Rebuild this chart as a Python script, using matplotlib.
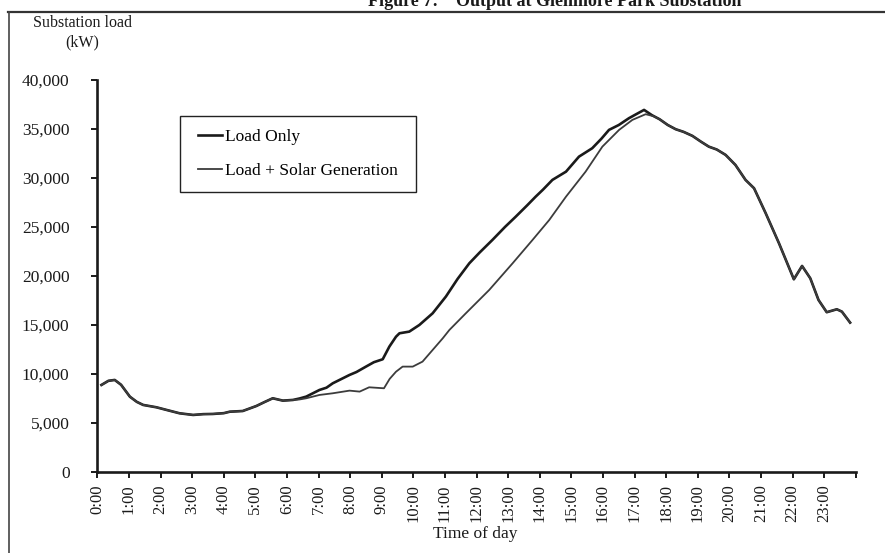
"""Glenmore Park substation load with and without rooftop solar, recreated from the report figure."""

import matplotlib

matplotlib.use("Agg")
import matplotlib.pyplot as plt  # noqa: E402
from matplotlib.lines import Line2D  # noqa: E402

# readings: hour of day -> substation load (kW)
# overnight part is identical for both series
NIGHT_H = [0.13, 0.35, 0.55, 0.75, 1.03, 1.25, 1.45, 1.87, 2.19, 2.6, 3.03, 3.35, 3.65, 4.0,
           4.19, 4.6, 5.03, 5.3, 5.55, 5.87, 6.19]
NIGHT_KW = [8880, 9300, 9390, 8900, 7680, 7150, 6840, 6600, 6330, 5990, 5820, 5900, 5920, 6000,
            6150, 6220, 6730, 7150, 7520, 7280, 7350]

LOAD_H = [6.4, 6.61, 7.03, 7.25, 7.45, 7.98, 8.2, 8.5, 8.75, 9.03, 9.24, 9.45, 9.56, 9.87,
          10.19, 10.61, 11.03, 11.4, 11.77, 12.1, 12.5, 12.9, 13.24, 13.6, 13.87, 14.1, 14.4,
          14.83, 15.24, 15.45, 15.66, 15.95, 16.19, 16.5, 16.82, 17.05, 17.3, 17.55]
LOAD_KW = [7500, 7690, 8370, 8600, 9050, 9900, 10200, 10750, 11200, 11500, 12790, 13800, 14150, 14320,
           15000, 16190, 17900, 19700, 21290, 22400, 23670, 25000, 26050, 27200, 28090, 28800, 29800,
           30640, 32170, 32600, 33030, 34000, 34900, 35400, 36090, 36500, 36940, 36400]

SOLAR_H = [6.4, 6.61, 7.03, 7.45, 7.98, 8.3, 8.6, 9.07, 9.25, 9.45, 9.66, 9.98, 10.29, 10.61,
           10.93, 11.14, 11.66, 12.4, 13.14, 13.77, 14.3, 14.83, 15.45, 15.98, 16.51, 16.93,
           17.35, 17.6]
SOLAR_KW = [7400, 7520, 7860, 8030, 8300, 8200, 8640, 8540, 9500, 10230, 10750, 10750, 11260, 12450,
            13640, 14490, 16190, 18570, 21290, 23670, 25710, 28090, 30640, 33190, 34900, 35920,
            36500, 36300]

# evening, after sunset the two curves coincide again
EVE_H = [17.79, 18.05, 18.3, 18.55, 18.83, 19.1, 19.35, 19.6, 19.88, 20.19, 20.51, 20.78, 21.15,
         21.57, 22.04, 22.3, 22.56, 22.82, 23.08, 23.4, 23.56, 23.82]
EVE_KW = [35990, 35400, 34970, 34700, 34290, 33700, 33190, 32900, 32350, 31330, 29800, 28950, 26390,
          23330, 19660, 21020, 19760, 17550, 16300, 16600, 16360, 15240]

HOURS = list(range(25))
HOUR_LABELS = [f"{h}:00" for h in range(24)] + [""]
Y_TICKS = [0, 5000, 10000, 15000, 20000, 25000, 30000, 35000, 40000]

SERIF = ["Liberation Serif", "DejaVu Serif"]
INK = "#1a1a1a"


def main():
    plt.rcParams["font.family"] = SERIF
    fig = plt.figure(figsize=(8.85, 5.53), dpi=100, facecolor="white")
    ax = fig.add_axes([0.110, 0.1465, 0.857, 0.709])

    ax.plot(NIGHT_H + LOAD_H + EVE_H, NIGHT_KW + LOAD_KW + EVE_KW, color=INK, lw=1.9,
            label="Load Only", solid_joinstyle="round")
    ax.plot(NIGHT_H + SOLAR_H + EVE_H, NIGHT_KW + SOLAR_KW + EVE_KW, color="#3c3c3c", lw=1.3,
            label="Load + Solar Generation", solid_joinstyle="round")

    ax.set_xlim(0, 24)
    ax.set_ylim(0, 40000)
    ax.set_xticks(HOURS)
    ax.set_xticklabels(HOUR_LABELS, rotation=90, fontsize=12)
    ax.set_yticks(Y_TICKS)
    ax.set_yticklabels([f"{v:,}" for v in Y_TICKS], fontsize=12.5)
    ax.tick_params(axis="y", direction="out", length=4, width=1.4, pad=16, colors=INK)
    ax.tick_params(axis="x", direction="out", length=4, width=1.4, pad=5, colors=INK)
    for s in ("top", "right"):
        ax.spines[s].set_visible(False)
    for s in ("left", "bottom"):
        ax.spines[s].set_linewidth(1.9)
        ax.spines[s].set_color(INK)

    leg = ax.legend(loc="upper left", bbox_to_anchor=(0.109, 0.908), borderaxespad=0,
                    fancybox=False, edgecolor="#222", framealpha=1, fontsize=12.5,
                    handlelength=1.4, handletextpad=0.15, labelspacing=1.0, borderpad=0.75)
    leg.get_frame().set_linewidth(1.0)
    leg._legend_box.set_width(210)

    fig.text(0.093, 0.941, "Substation load\n(kW)", ha="center", va="center", fontsize=11.5,
             color=INK, linespacing=1.35)
    fig.text(0.537, 0.034, "Time of day", ha="center", va="center", fontsize=12.5, color=INK)

    # report page remnants: caption cut off at the top edge, panel frame lines
    fig.text(0.455, 0.989, "Figure 7:", ha="center", va="baseline", fontsize=13,
             weight="bold", color=INK)
    fig.text(0.677, 0.989, "Output at Glenmore Park Substation", ha="center", va="baseline",
             fontsize=13, weight="bold", color=INK)
    fig.add_artist(Line2D([0.009, 1.0], [0.979, 0.979], color="#333", lw=1.6))
    fig.add_artist(Line2D([0.0105, 0.0105], [0.0, 0.979], color="#444", lw=1.2))

    fig.savefig("out.png", dpi=100, facecolor="white")
    plt.close(fig)


if __name__ == "__main__":
    main()
